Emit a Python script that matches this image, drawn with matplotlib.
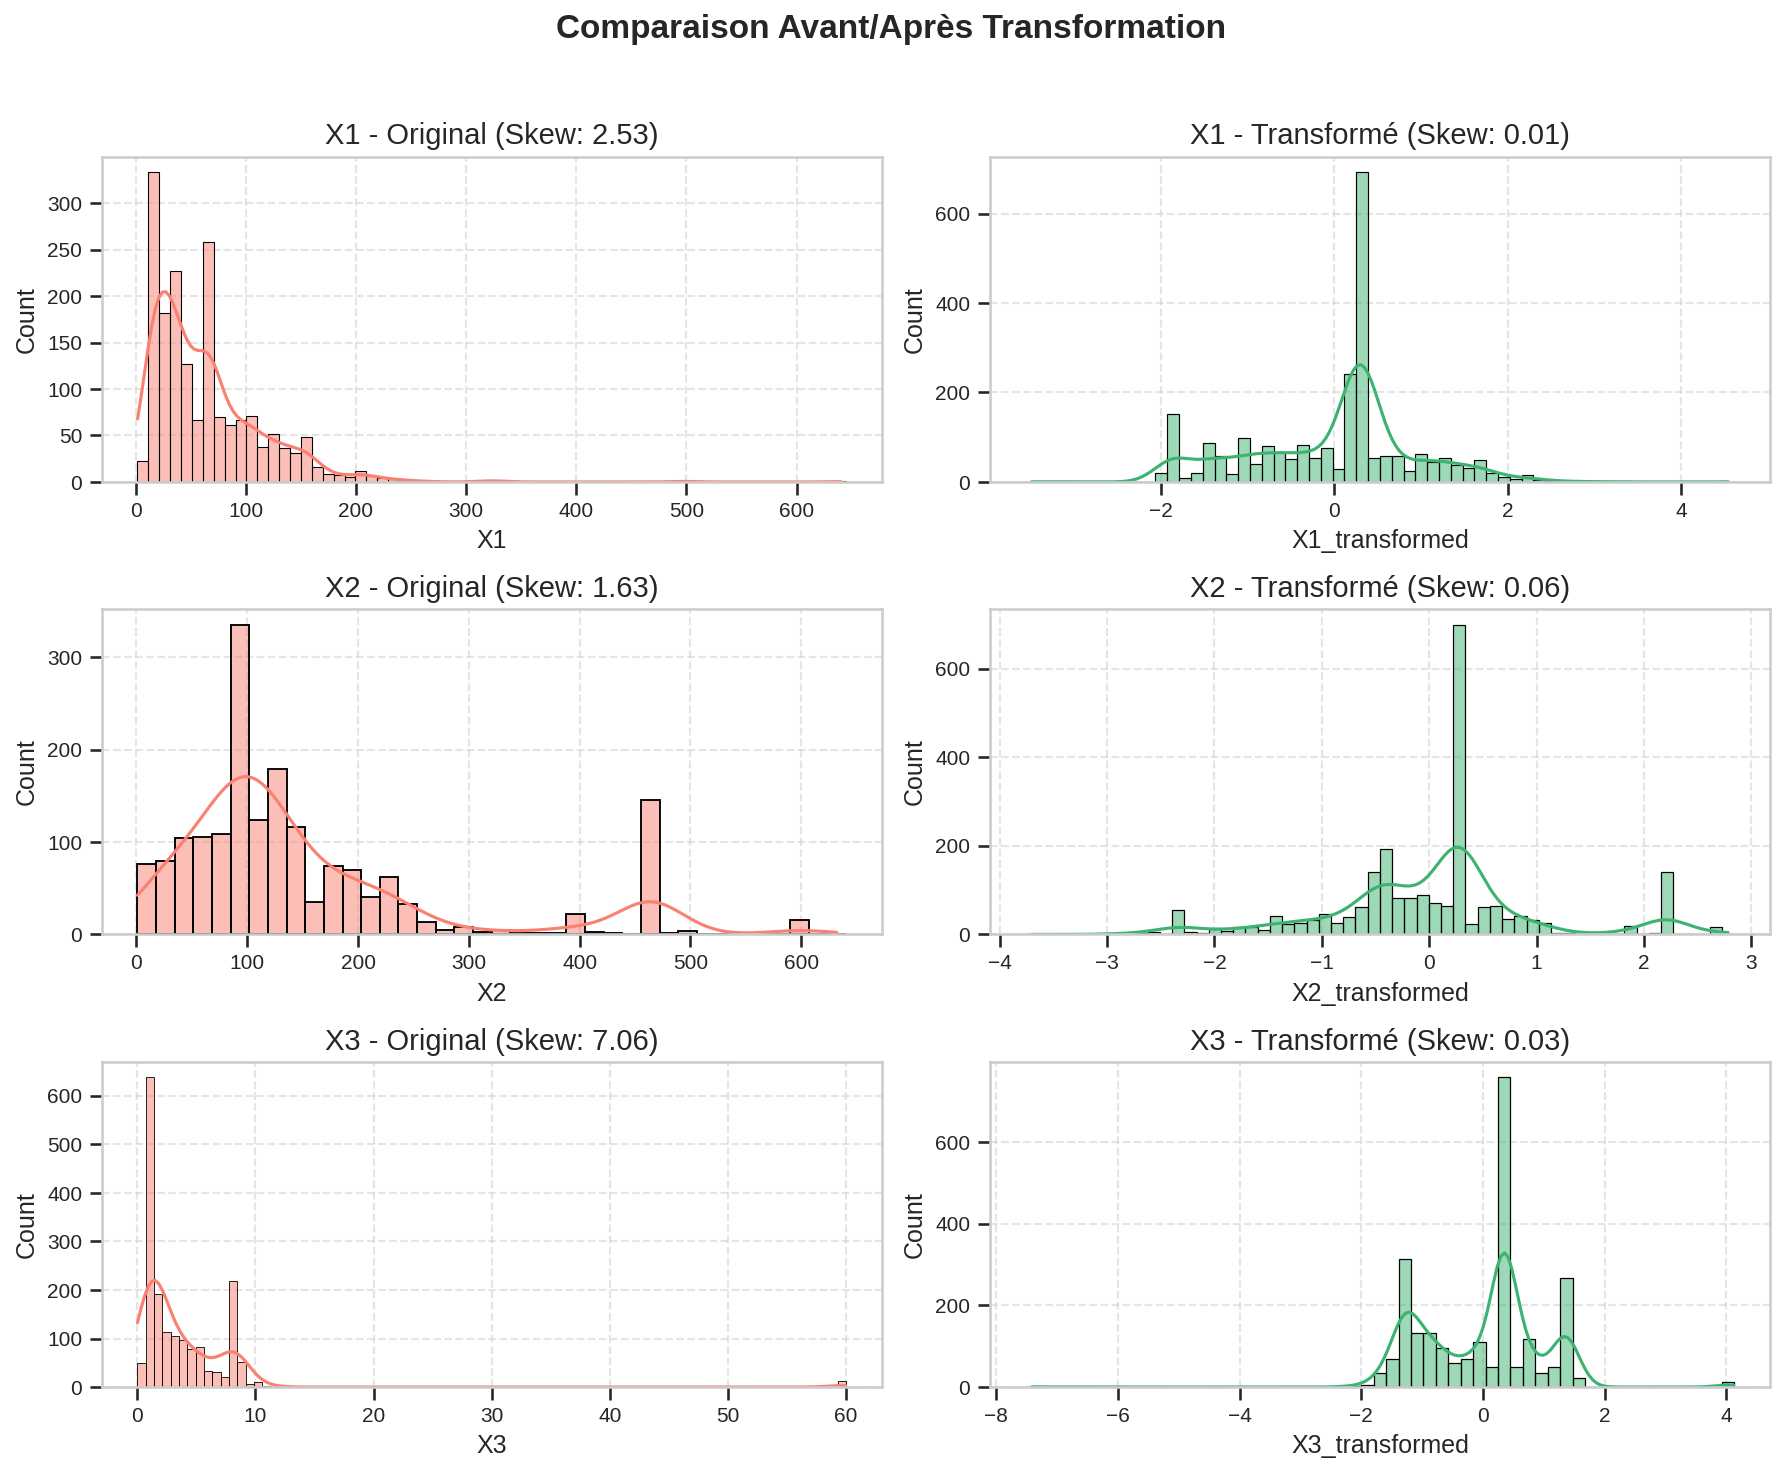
import numpy as np
import matplotlib
matplotlib.use("Agg")
import matplotlib.pyplot as plt
from matplotlib.ticker import MaxNLocator
import seaborn as sns

# comptes : (debut, largeur de classe, comptes)
x1_start, x1_width = 1.5, 9.9
x1_counts = [23, 333, 182, 227, 127, 67, 258, 70, 61, 67, 71, 38, 52, 37, 31,
             48, 16, 9, 7, 5, 12, 6, 4, 3, 2, 1, 1,
             0, 0, 0, 0, 1, 2, 1, 0, 0, 0,
             0, 0, 0, 0, 0, 0, 0, 0, 0, 0,
             0, 0, 1, 1, 0, 0, 0, 0, 0, 0,
             0, 0, 0, 0, 0, 0, 0, 1]

x1t_start, x1t_width = -3.558, 0.1362
x1t_counts = [1, 0, 0, 0, 0, 0, 0, 0, 0, 0, 0,
              19, 153, 8, 19, 88, 57, 17, 98, 40, 80, 67, 51, 82, 53, 76, 28, 242,
              692,
              54, 57, 57, 25, 63, 44, 54, 37, 32, 48, 20, 10, 7, 16, 4, 2,
              2, 1, 1, 0, 1, 0, 0, 0, 0, 0, 0, 0, 0, 0, 1]

x2_start, x2_width = 0.9, 16.83
x2_counts = [76, 79, 104, 106, 109, 335, 124, 179, 116, 35, 74, 70, 41, 62, 33,
             14, 5, 8, 3, 5, 2, 2, 2, 22, 3, 2, 1, 146, 2, 4, 1, 0, 0, 0, 1,
             16, 1, 1]

x2t_start, x2t_width = -3.759, 0.1138
x2t_counts = [1, 0, 0, 0, 0, 0, 1, 2, 2, 4, 6, 1, 56,
              6, 4, 12, 9, 16, 17, 10, 41, 23, 27, 33, 47, 27, 39, 63,
              142, 194, 83, 83, 90, 70, 65, 699,
              23, 63, 65, 36, 41, 32, 27, 4, 4, 1, 2, 1, 2, 20,
              1, 4, 140, 1, 0, 1, 17, 1]

x3_start, x3_width = 0.0, 0.70588
x3_counts = ([50, 638, 191, 114, 106, 96, 79, 83, 33, 31, 21, 218, 52, 6, 10, 3, 1]
             + [0] * 67 + [12])

x3t_start, x3t_width = -7.519, 0.2044
x3t_counts = ([1] + [0] * 24 + [1, 3,
              6, 35, 68, 313, 132, 132, 95, 60, 68, 110, 48, 758, 48, 118, 35,
              50, 268, 21] + [0] * 11 + [12])

names = ["X1", "X2", "X3"]
skew_orig = [2.53, 1.63, 7.06]
skew_trans = [0.01, 0.06, 0.03]

orig = [(x1_start, x1_width, x1_counts), (x2_start, x2_width, x2_counts),
        (x3_start, x3_width, x3_counts)]
trans = [(x1t_start, x1t_width, x1t_counts), (x2t_start, x2t_width, x2t_counts),
         (x3t_start, x3t_width, x3t_counts)]


def rebuild(start, width, counts):
    """Recreate observations from the bin counts (spread evenly in each bin)."""
    edges = start + width * np.arange(len(counts) + 1)
    pts = []
    for k, c in enumerate(counts):
        if c > 0:
            pts.append(edges[k] + width * (np.arange(c) + 0.5) / c)
    return np.concatenate(pts), edges


sns.set_theme(style="whitegrid")
plt.rcParams['font.family'] = ['Liberation Sans', 'DejaVu Sans']
plt.rcParams.update({
    'axes.edgecolor': '.8',
    'axes.linewidth': 1.25,
    'xtick.bottom': True,
    'ytick.left': True,
    'xtick.major.size': 6,
    'ytick.major.size': 6,
    'xtick.major.width': 1.25,
    'ytick.major.width': 1.25,
    'xtick.color': '.15',
    'ytick.color': '.15',
    'xtick.labelsize': 10,
    'ytick.labelsize': 10,
    'axes.labelsize': 12,
})

fig = plt.figure(figsize=(11.88, 9.827), dpi=150)
lefts = [0.0572, 0.5556]
bottoms = [0.6730, 0.3660, 0.0590]
w, h = 0.4375, 0.2205

for i in range(3):
    for j, (params, color, label, skew) in enumerate([
            (orig[i], 'salmon', 'Original', skew_orig[i]),
            (trans[i], 'mediumseagreen', 'Transformé', skew_trans[i])]):
        ax = fig.add_axes([lefts[j], bottoms[i], w, h])
        data, edges = rebuild(*params)
        sns.histplot(x=data, bins=edges, kde=True, color=color, alpha=0.5,
                     edgecolor='black', ax=ax)
        ax.set_title(f"{names[i]} - {label} (Skew: {skew:.2f})", fontsize=14)
        ax.set_xlabel(names[i] if j == 0 else names[i] + "_transformed")
        ax.set_ylabel("Count")
        ax.xaxis.set_major_locator(MaxNLocator(nbins=8, steps=[1, 2, 2.5, 5, 10]))
        ax.grid(True, linestyle='--', alpha=0.5)

fig.suptitle("Comparaison Avant/Après Transformation", fontsize=16,
             fontweight='bold', y=0.98, va='center')
fig.savefig("out.png", dpi=150)
